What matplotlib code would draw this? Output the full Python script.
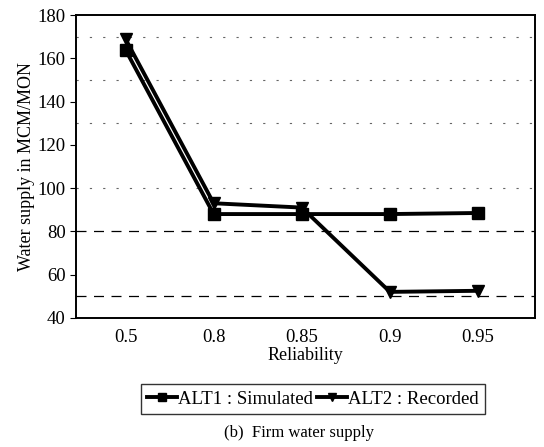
import matplotlib.pyplot as plt

plt.rcParams['font.family'] = ['Liberation Serif', 'DejaVu Serif']

reliability = ['0.5', '0.8', '0.85', '0.9', '0.95']
alt1 = [164, 88, 88, 88, 88.5]
alt2 = [169, 93, 91, 52, 52.5]
yticks = [40, 60, 80, 100, 120, 140, 160, 180]

fig = plt.figure(figsize=(5.44, 4.47), dpi=100)
ax = fig.add_axes([0.14, 0.289, 0.844, 0.677])

xs = list(range(len(reliability)))

# reference lines
for y in [50, 80]:
    ax.axhline(y, color='black', lw=0.9, ls=(0, (8, 6)), zorder=1)
for y in [100, 130, 150, 170]:
    ax.axhline(y, color='#666666', lw=0.8, ls=(0, (2, 10)), zorder=1)

ax.plot(xs, alt1, color='black', lw=2.8, marker='s', ms=8,
        label='ALT1 : Simulated', zorder=3)
ax.plot(xs, alt2, color='black', lw=2.8, marker='v', ms=8,
        label='ALT2 : Recorded', zorder=3)

ax.set_xlim(-0.56, 4.65)
ax.set_ylim(40, 180)
ax.set_xticks(xs)
ax.set_xticklabels(reliability)
ax.set_yticks(yticks)
ax.tick_params(axis='x', length=0, labelsize=13.5, pad=8)
ax.tick_params(axis='y', direction='out', length=4, labelsize=13.5)
for s in ax.spines.values():
    s.set_linewidth(1.4)

ax.set_xlabel('Reliability', fontsize=13, labelpad=1)
ax.set_ylabel('Water supply in MCM/MON', fontsize=13, labelpad=2)

fig.legend(loc='center', bbox_to_anchor=(0.575, 0.107), ncol=2,
           fontsize=13.5, frameon=True, fancybox=False, edgecolor='black',
           handlelength=1.6, handletextpad=0.05, columnspacing=0.2,
           borderpad=0.35, markerscale=0.7)

fig.text(0.55, 0.022, '(b)  Firm water supply', ha='center', fontsize=12)

fig.savefig('out.png', dpi=100)
